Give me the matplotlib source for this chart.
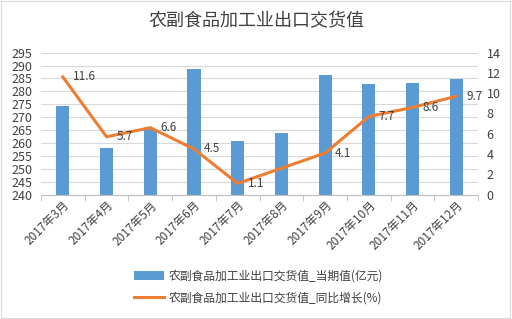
import matplotlib
matplotlib.use("Agg")
import matplotlib.pyplot as plt
import numpy as np

plt.rcParams['font.family'] = ['Noto Sans CJK SC', 'DejaVu Sans']

categories = ["2017年3月", "2017年4月", "2017年5月", "2017年6月", "2017年7月",
              "2017年8月", "2017年9月", "2017年10月", "2017年11月", "2017年12月"]
values = [274.5, 258.2, 265.5, 288.5, 260.6, 264.0, 286.2, 282.7, 283.1, 284.6]
growth = [11.6, 5.7, 6.6, 4.5, 1.1, 2.6, 4.1, 7.7, 8.6, 9.7]
growth_labels = ["11.6", "5.7", "6.6", "4.5", "1.1", "", "4.1", "7.7", "8.6", "9.7"]
bar_name = "农副食品加工业出口交货值_当期值(亿元)"
line_name = "农副食品加工业出口交货值_同比增长(%)"
title = "农副食品加工业出口交货值"

fig = plt.figure(figsize=(5.12, 3.19), dpi=100)
ax = fig.add_axes([0.08, 0.39, 0.854, 0.445])
x = np.arange(len(categories))
bars = ax.bar(x, values, width=0.3, color="#5B9BD5", zorder=2, label=bar_name)
ax.set_ylim(240, 295)
ax.set_yticks(np.arange(240, 296, 5))
ax.set_xlim(-0.5, len(categories) - 0.5)
ax.grid(axis='y', color="#D9D9D9", linewidth=0.8, zorder=0)
for s in ['top', 'right', 'left']:
    ax.spines[s].set_visible(False)
ax.spines['bottom'].set_color("#BFBFBF")
ax.tick_params(axis='y', length=0, labelsize=9, colors="#404040", pad=6)
ax.set_xticks(x)
ax.set_xticklabels(categories, rotation=45, ha='right', rotation_mode='anchor',
                   fontsize=8.5, color="#404040")
ax.tick_params(axis='x', length=0, pad=3)
ax.set_xticks(np.arange(-0.5, len(categories), 1), minor=True)
ax.tick_params(axis='x', which='minor', length=4, color="#BFBFBF")

ax2 = ax.twinx()
ln, = ax2.plot(x, growth, color="#ED7D31", linewidth=2.2, zorder=3, label=line_name)
ax2.set_ylim(0, 14)
ax2.set_yticks(np.arange(0, 15, 2))
for s in ['top', 'right', 'left', 'bottom']:
    ax2.spines[s].set_visible(False)
ax2.tick_params(axis='y', length=0, labelsize=9, colors="#404040", pad=6)
for xi, g, t in zip(x, growth, growth_labels):
    if t:
        ax2.annotate(t, (xi, g), xytext=(7, 0), textcoords='offset points',
                     fontsize=8.5, color="#404040", va='center', ha='left')

fig.text(0.5, 0.935, title, ha='center', va='center', fontsize=13, color="#404040")

fig.legend(handles=[bars, ln], labels=[bar_name, line_name], loc='center',
           bbox_to_anchor=(0.505, 0.1), ncol=1, frameon=False, fontsize=8.5,
           labelcolor="#404040", handlelength=2.5, handletextpad=0.4, labelspacing=0.75)

fig.patches.append(plt.Rectangle((0.002, 0.003), 0.995, 0.994, transform=fig.transFigure,
                                 fill=False, edgecolor="#D9D9D9", linewidth=0.8))
fig.savefig("out.png", dpi=100)
